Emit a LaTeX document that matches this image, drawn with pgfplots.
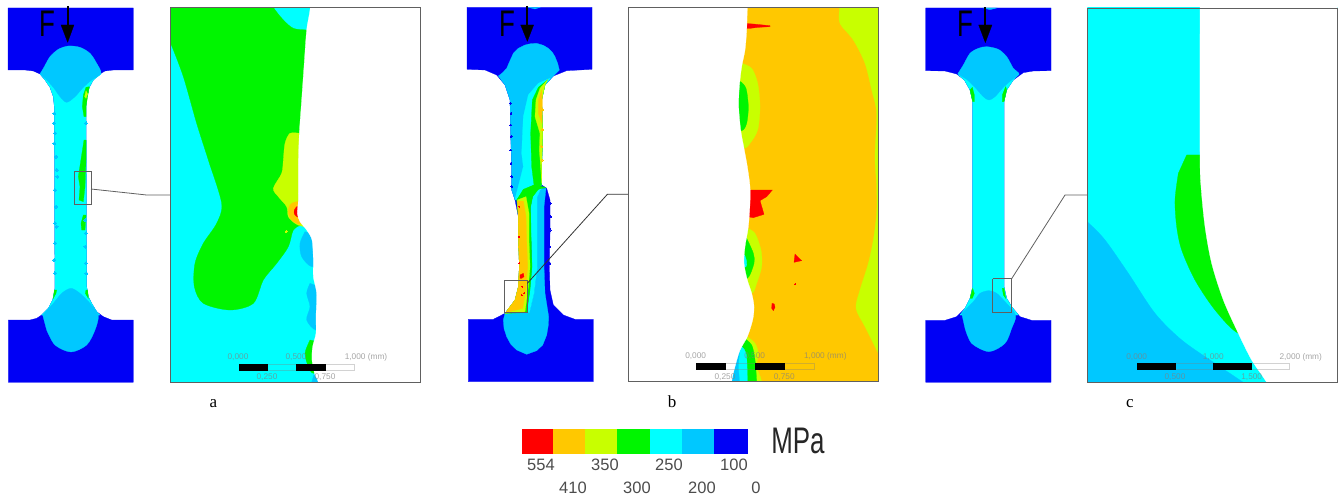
\documentclass[border=0pt]{standalone}
\usepackage{pgfplots}
\pgfplotsset{compat=1.18}
\usepackage{fontspec}
\setmainfont{Liberation Sans}
\newfontfamily\serifnum{Liberation Serif}
\definecolor{bl}{HTML}{0000F5}
\definecolor{lb}{HTML}{00C8FF}
\definecolor{cy}{HTML}{00FFFF}
\definecolor{gr}{HTML}{00F500}
\definecolor{yl}{HTML}{C8FF00}
\definecolor{or}{HTML}{FFC800}
\definecolor{rd}{HTML}{FF0000}
\definecolor{fr}{HTML}{606060}
\pgfplotsset{
  z1/.style={x filter/.expression={x/3},y filter/.expression={y/3}},
  z2/.style={x filter/.expression={460+x/3},y filter/.expression={y/3}},
  z3/.style={x filter/.expression={915+x/3},y filter/.expression={y/3}},
  z4/.style={x filter/.expression={500+x/3},y filter/.expression={415+y/3}},
  flat/.style={scale only axis,axis lines=none,y dir=reverse,clip=true},
}
\newcommand\poly[3]{\addplot[#1,forget plot,draw=#2,line width=0.25pt,fill=#2,mark=none] coordinates {#3} --cycle;}
\newcommand\spoly[3]{\addplot[#1,forget plot,draw=#2,line width=0.25pt,fill=#2,mark=none,smooth,tension=0.5] coordinates {#3} --cycle;}
\newcommand\outl[3]{\addplot[forget plot,draw=#2,line width=0.8pt,mark=none,#1] coordinates {#3};}
\newcommand\specks[4]{\addplot[#1,forget plot,only marks,mark=*,mark size=#3,color=#2,mark options={fill=#2,draw=#2,line width=0pt}] coordinates {#4};}
\newcommand\scl[3]{\node[text=gray,opacity=.7,inner sep=0pt] at (axis cs:#1,#2) {\fontsize{8.3}{10}\selectfont #3};}
\newcommand\cbl[3]{\node[text=black!70,inner sep=0pt] at (axis cs:#1,#2) {\fontsize{16.5}{18}\selectfont #3};}
\newcommand\subl[2]{\node[inner sep=0pt,anchor=base] at (axis cs:#1,407) {\serifnum\fontsize{17}{20}\selectfont #2};}
\newcommand\eff[1]{\node[inner sep=0pt,text=black] at (axis cs:#1,23.5) {\scalebox{0.7}[1]{\fontsize{37}{40}\selectfont F}};}
\begin{document}
\begin{tikzpicture}
% ===== specimens and connectors =====
\begin{axis}[flat,width=1338pt,height=495pt,xmin=0,xmax=1338,ymin=0,ymax=495]
\path (axis cs:0,0) rectangle (axis cs:1338,495);
% specimen a
\poly{z1}{bl}{(24,24)(400,24)(400,210)(340,210)(315,213)(300,222)(280,240)(268,262)(260,295)(258,320)(260,860)(265,890)(275,910)(290,935)(310,950)(335,960)(400,960)(400,1147)(25,1147)(25,960)(90,960)(110,955)(125,945)(145,925)(158,900)(165,865)(163,320)(160,290)(150,262)(135,240)(120,222)(100,213)(75,210)(24,210)}
\poly{z1}{cy}{(120,222)(135,240)(150,262)(160,290)(163,320)(165,865)(158,900)(145,925)(125,945)(300,945)(290,935)(275,910)(265,890)(260,860)(258,320)(260,295)(268,262)(280,240)(303,222)}
\spoly{z1}{lb}{(120,222)(133,200)(150,170)(175,148)(205,138)(240,142)(270,160)(290,190)(303,220)(275,240)(250,262)(225,290)(200,307)(180,290)(160,262)(140,240)}
\spoly{z1}{lb}{(128,945)(160,910)(185,880)(213,865)(240,880)(270,910)(295,945)(285,990)(260,1035)(213,1056)(165,1035)(140,990)}
\poly{z1}{gr}{(268,260)(258,262)(250,285)(247,320)(252,350)(258,350)(258,320)(262,295)}
\poly{z1}{yl}{(258,272)(254,290)(258,295)(263,282)}
\poly{z1}{gr}{(252,420)(245,465)(235,530)(240,560)(237,600)(250,605)(255,560)(258,480)(258,420)}
\poly{z1}{gr}{(250,645)(243,670)(245,690)(255,690)(258,645)}
\poly{z1}{gr}{(163,870)(160,895)(168,880)(170,870)}
\poly{z1}{gr}{(258,870)(256,880)(265,895)(263,870)}
\specks{z1}{lb}{1.6}{(163,340)(162,370)(165,400)(163,430)(168,470)(170,510)(172,530)(165,570)(168,620)(165,670)(170,680)(165,730)(163,780)(165,820)(258,370)(256,660)(258,700)(256,740)(258,790)(259,820)}
\outl{z1}{fr}{(223,514)(273,514)(273,614)(223,614)(223,514)}
\outl{z1}{fr}{(273,567)(440,585)(510,585)}
% specimen b
\poly{z2}{bl}{(21,22)(396,22)(396,208)(320,212)(280,228)(255,255)(245,300)(248,400)(245,500)(245,555)(260,565)(270,600)(270,700)(268,800)(270,870)(280,915)(310,945)(345,958)(400,958)(400,1145)(25,1145)(25,958)(100,958)(135,940)(165,900)(175,860)(178,800)(175,700)(175,650)(165,600)(155,570)(155,500)(152,400)(150,300)(135,255)(110,225)(75,210)(21,208)}
\poly{z2}{lb}{(205,22)(240,22)(225,27)}
\poly{z2}{lb}{(115,228)(128,218)(140,205)(150,182)(160,160)(175,145)(195,135)(212,131)(230,130)(250,136)(265,145)(277,157)(285,170)(293,190)(298,210)(280,228)(255,255)(245,300)(248,400)(245,500)(245,555)(170,600)(165,600)(155,570)(155,500)(152,400)(150,300)(135,255)}
\poly{z2}{cy}{(270,235)(235,250)(205,285)(190,350)(185,460)(190,500)(165,598)(172,598)(245,555)(245,500)(248,400)(245,300)(255,255)}
\poly{z2}{gr}{(262,240)(235,262)(217,300)(212,400)(215,500)(222,555)(190,568)(172,598)(245,555)(245,500)(248,400)(245,300)(255,255)}
\poly{z2}{yl}{(262,240)(240,265)(228,300)(225,350)(240,400)(238,450)(242,500)(245,550)(245,500)(248,400)(245,300)(255,255)}
\poly{z2}{or}{(245,270)(235,300)(235,340)(246,370)(247,300)}
\poly{z2}{lb}{(258,565)(240,565)(232,590)(232,700)(232,800)(222,880)(208,938)(135,940)(130,960)(132,985)(140,1010)(152,1032)(170,1050)(200,1063)(230,1052)(248,1035)(260,1005)(265,975)(266,950)(255,880)(252,800)(252,700)(252,620)}
\poly{z2}{cy}{(250,562)(232,570)(218,590)(212,620)(213,700)(216,800)(210,870)(200,938)(208,938)(222,880)(232,800)(232,700)(232,590)(240,570)}
\poly{z2}{gr}{(170,600)(190,572)(222,555)(258,562)(235,568)(218,590)(212,620)(213,700)(216,800)(210,870)(200,938)(135,940)(165,900)(175,860)(178,800)(175,700)(175,650)}
\poly{z2}{yl}{(172,600)(198,590)(207,640)(207,720)(210,800)(205,860)(195,935)(135,940)(165,900)(175,860)(178,800)(175,700)(175,650)}
\poly{z2}{or}{(172,603)(190,603)(198,650)(200,720)(203,800)(197,870)(188,925)(137,938)(165,900)(175,860)(178,800)(175,700)(175,650)}
\poly{z2}{rd}{(180,825)(190,820)(192,830)(185,835)(180,835)}
\specks{z2}{rd}{0.5}{(178,620)(177,710)(178,790)(185,885)(192,880)(187,860)}
\specks{z2}{bl}{0.9}{(152,310)(153,340)(152,375)(154,410)(152,450)(153,490)(155,530)(155,560)}
\specks{z2}{or}{1}{(246,330)(247,390)(245,440)(246,480)(178,670)(178,740)}
\specks{z2}{bl}{1.2}{(270,610)(271,650)(270,690)(269,740)(269,790)}
\outl{z2}{fr}{(134,840)(202,840)(202,938)(134,938)(134,840)}
\outl{z2}{black!80}{(202,850)(442,583)(506,583)}
% specimen c
\poly{z3}{bl}{(32,24)(408,24)(408,212)(355,213)(325,218)(295,240)(275,270)(267,305)(267,860)(275,895)(290,920)(315,950)(350,961)(408,961)(408,1147)(32,1147)(32,961)(90,961)(125,950)(150,925)(165,895)(173,860)(173,305)(165,270)(148,240)(125,222)(90,213)(32,212)}
\poly{z3}{lb}{(205,24)(245,24)(225,29)}
\poly{z3}{cy}{(130,225)(148,240)(165,270)(173,305)(173,860)(165,895)(150,925)(135,945)(310,945)(290,920)(275,895)(267,860)(267,305)(275,270)(295,240)(312,222)}
\spoly{z3}{lb}{(128,222)(145,195)(165,160)(190,145)(215,140)(250,148)(275,170)(295,205)(312,222)(290,240)(265,262)(240,290)(222,300)(205,290)(180,262)(155,238)}
\spoly{z3}{lb}{(140,940)(175,905)(195,880)(222,872)(245,880)(270,905)(302,945)(290,985)(270,1030)(222,1055)(170,1030)(150,985)}
\poly{z3}{gr}{(172,262)(178,285)(178,305)(173,305)(165,270)}
\poly{z3}{gr}{(272,260)(262,285)(262,305)(267,305)(275,270)}
\poly{z3}{gr}{(173,865)(178,880)(172,895)(165,895)}
\poly{z3}{gr}{(262,865)(265,885)(272,895)(267,865)}
\outl{z3}{fr}{(233,836)(290,836)(290,937)(233,937)(233,836)}
\outl{z3}{fr}{(290,836)(450,585)(517,585)}
\end{axis}
% ===== panel a =====
\begin{axis}[flat,at={(170pt,112.67pt)},anchor=south west,width=250.67pt,height=375pt,xmin=170,xmax=420.67,ymin=7.33,ymax=382.33]
\poly{z1}{cy}{(500,10)(1270,10)(1270,1160)(500,1160)}
\spoly{z1}{gr}{(400,-100)(820,-100)(815,0)(820,22)(850,60)(880,85)(920,90)(970,95)(1020,110)(1020,650)(960,665)(905,675)(880,690)(865,740)(830,790)(790,840)(760,910)(690,930)(610,910)(583,860)(585,790)(610,730)(650,670)(665,610)(625,480)(590,370)(550,230)(510,125)(480,60)(450,-10)}
\spoly{z1}{yl}{(898,400)(870,400)(855,430)(850,480)(845,520)(820,565)(835,590)(860,620)(865,650)(885,670)(905,678)(950,680)(1000,600)(1000,420)(950,400)}
\spoly{z1}{or}{(920,600)(875,610)(865,635)(875,660)(900,672)(930,660)}
\spoly{z1}{rd}{(890,620)(883,630)(883,642)(890,650)(905,650)(905,620)}
\spoly{z1}{lb}{(915,695)(900,730)(905,770)(935,800)(970,780)(960,710)}
\spoly{z1}{lb}{(930,850)(920,880)(930,920)(920,960)(948,990)(980,960)(980,870)}
\spoly{z1}{gr}{(930,1020)(915,1060)(925,1100)(940,1120)(970,1100)(970,1030)}
\poly{z1}{lb}{(943,1120)(935,1147)(960,1180)(980,1147)(960,1110)}
\specks{z1}{yl}{1}{(858,695)}
\spoly{z1}{white}{(1350,-200)(945,-200)(940,-100)(931,22)(920,90)(912,200)(905,300)(898,400)(895,500)(895,600)(892,640)(900,665)(920,690)(936,720)(940,780)(940,830)(950,880)(948,950)(948,1000)(938,1040)(936,1080)(945,1125)(955,1147)(975,1250)(985,1350)(1350,1350)}
\outl{z1,line width=0.3pt,opacity=.35}{gray}{(716,1092)(1062,1092)(1062,1110)(716,1110)}
\poly{z1}{black}{(716,1092)(802,1092)(802,1110)(716,1110)}
\poly{z1}{black}{(889,1092)(976,1092)(976,1110)(889,1110)}
\end{axis}
% ===== panel b =====
\begin{axis}[flat,at={(628.67pt,113.33pt)},anchor=south west,width=250pt,height=374.33pt,xmin=628.67,xmax=878.67,ymin=7.33,ymax=381.67]
\poly{z2}{or}{(500,10)(1270,10)(1270,1160)(500,1160)}
\spoly{z2}{yl}{(1138,-100)(1138,22)(1140,70)(1180,120)(1215,190)(1235,270)(1250,340)(1245,470)(1250,560)(1250,640)(1240,720)(1225,790)(1200,870)(1188,925)(1215,980)(1255,1060)(1300,1150)(1400,1250)(1500,1000)(1500,-100)}
\spoly{z2}{yl}{(845,190)(875,205)(893,250)(900,320)(893,390)(870,430)(852,445)(810,420)(800,300)(810,200)}
\spoly{z2}{gr}{(842,245)(858,265)(865,320)(860,370)(845,392)(810,380)(800,300)(815,250)}
\spoly{z2}{yl}{(862,685)(885,700)(903,750)(905,800)(890,850)(875,880)(830,860)(815,770)(830,700)}
\spoly{z2}{gr}{(860,715)(880,760)(882,790)(862,835)(830,810)(825,760)(835,720)}
\spoly{z2}{cy}{(854,765)(860,785)(858,800)(840,800)(840,770)}
\poly{z2}{rd}{(850,70)(880,72)(930,77)(930,80)(895,82)(870,85)(850,85)}
\poly{z2}{rd}{(860,570)(937,570)(920,590)(900,602)(912,643)(880,653)(860,650)}
\poly{z2}{rd}{(1005,762)(1025,782)(1002,787)}
\poly{z2}{rd}{(936,910)(943,912)(945,922)(940,932)(935,925)}
\specks{z2}{rd}{0.5}{(1005,852)}
\spoly{z2}{yl}{(862,1010)(885,1030)(895,1060)(890,1100)(905,1145)(920,1250)(750,1250)(750,1050)(820,1000)}
\spoly{z2}{gr}{(850,1013)(875,1035)(885,1080)(890,1145)(895,1250)(750,1250)(750,1050)(800,1010)}
\spoly{z2}{cy}{(835,1030)(858,1060)(862,1145)(862,1250)(750,1250)(750,1050)(800,1020)}
\spoly{z2}{lb}{(835,1030)(838,1060)(835,1100)(838,1145)(838,1250)(750,1250)(750,1050)(800,1020)}
\spoly{z2}{white}{(300,-200)(870,-200)(866,-100)(862,22)(860,90)(855,150)(845,200)(838,260)(836,320)(842,390)(852,445)(862,500)(870,560)(870,610)(865,680)(855,740)(852,790)(862,840)(875,880)(882,920)(878,960)(862,1010)(840,1050)(825,1100)(815,1145)(805,1250)(800,1350)(300,1350)}
\outl{z2,line width=0.3pt,opacity=.35}{gray}{(707,1090)(1063,1090)(1063,1108)(707,1108)}
\poly{z2}{black}{(707,1090)(795,1090)(795,1108)(707,1108)}
\poly{z2}{black}{(886,1090)(973,1090)(973,1108)(886,1108)}
\end{axis}
% ===== panel c =====
\begin{axis}[flat,at={(1087.33pt,112.67pt)},anchor=south west,width=250pt,height=374.33pt,xmin=1087.33,xmax=1337.33,ymin=8,ymax=382.33]
\poly{z3}{cy}{(500,10)(1290,10)(1290,1160)(500,1160)}
\spoly{z3}{lb}{(450,600)(517,665)(570,720)(640,820)(720,940)(800,1020)(900,1090)(985,1147)(1080,1210)(1080,1300)(450,1300)}
\spoly{z3}{gr}{(815,465)(860,465)(905,465)(1000,600)(1050,1000)(970,1000)(900,930)(840,840)(800,750)(785,680)(780,600)(790,520)}
\spoly{z3}{white}{(1400,-200)(855,-200)(855,-100)(855,24)(855,465)(858,560)(870,680)(890,790)(925,900)(970,1000)(1010,1080)(1055,1147)(1100,1230)(1130,1350)(1400,1350)}
\outl{z3,line width=0.3pt,opacity=.35}{gray}{(667,1090)(1123,1090)(1123,1108)(667,1108)}
\poly{z3}{black}{(667,1090)(780,1090)(780,1108)(667,1108)}
\poly{z3}{black}{(895,1090)(1008,1090)(1008,1108)(895,1108)}
\end{axis}
% ===== frames, arrows, labels, colour bar =====
\begin{axis}[flat,width=1338pt,height=495pt,xmin=0,xmax=1338,ymin=0,ymax=495]
\outl{z1}{fr}{(510,22)(1262,22)(1262,1147)(510,1147)(510,22)}
\outl{z2}{fr}{(506,22)(1256,22)(1256,1145)(506,1145)(506,22)}
\outl{z3}{fr}{(517,24)(1267,24)(1267,1147)(517,1147)(517,24)}
\scl{238}{357}{0,000}\scl{296}{357}{0,500}\scl{366}{357}{1,000 (mm)}\scl{267}{377.5}{0,250}\scl{325}{377.5}{0,750}
\scl{695.7}{356.3}{0,000}\scl{754.7}{356.3}{0,500}\scl{825.3}{356.3}{1,000 (mm)}\scl{725}{376.7}{0,250}\scl{784.3}{376.7}{0,750}
\scl{1136.7}{357}{0,000}\scl{1213.3}{357}{1,000}\scl{1300.7}{357}{2,000 (mm)}\scl{1175}{377}{0,500}\scl{1251.7}{377}{1,500}
\addplot[z1,forget plot,draw=black,line width=2.2pt,mark=none] coordinates {(203,18)(203,85)};
\poly{z1}{black}{(183,75)(222,75)(203,127)}
\addplot[z2,forget plot,draw=black,line width=2.2pt,mark=none] coordinates {(202,18)(202,85)};
\poly{z2}{black}{(182,75)(221,75)(202,124)}
\addplot[z3,forget plot,draw=black,line width=2.2pt,mark=none] coordinates {(211,22)(211,85)};
\poly{z3}{black}{(191,75)(231,75)(211,128)}
\eff{47}\eff{507}\eff{965}
\subl{213.5}{a}\subl{672}{b}\subl{1130}{c}
\poly{z4}{rd}{(65,43)(160,43)(160,113)(65,113)}
\poly{z4}{or}{(160,43)(256,43)(256,113)(160,113)}
\poly{z4}{yl}{(256,43)(352,43)(352,113)(256,113)}
\poly{z4}{gr}{(352,43)(449,43)(449,113)(352,113)}
\poly{z4}{cy}{(449,43)(546,43)(546,113)(449,113)}
\poly{z4}{lb}{(546,43)(641,43)(641,113)(546,113)}
\poly{z4}{bl}{(641,43)(740,43)(740,113)(641,113)}
\cbl{541}{465}{554}\cbl{605}{465}{350}\cbl{669}{465}{250}\cbl{734}{465}{100}
\cbl{573}{487.7}{410}\cbl{637}{487.7}{300}\cbl{702}{487.7}{200}\cbl{756}{487.7}{0}
\node[inner sep=0pt,text=black!85] at (axis cs:798,440.5) {\scalebox{0.7}[1]{\fontsize{37}{40}\selectfont MPa}};
\end{axis}
\end{tikzpicture}
\end{document}
